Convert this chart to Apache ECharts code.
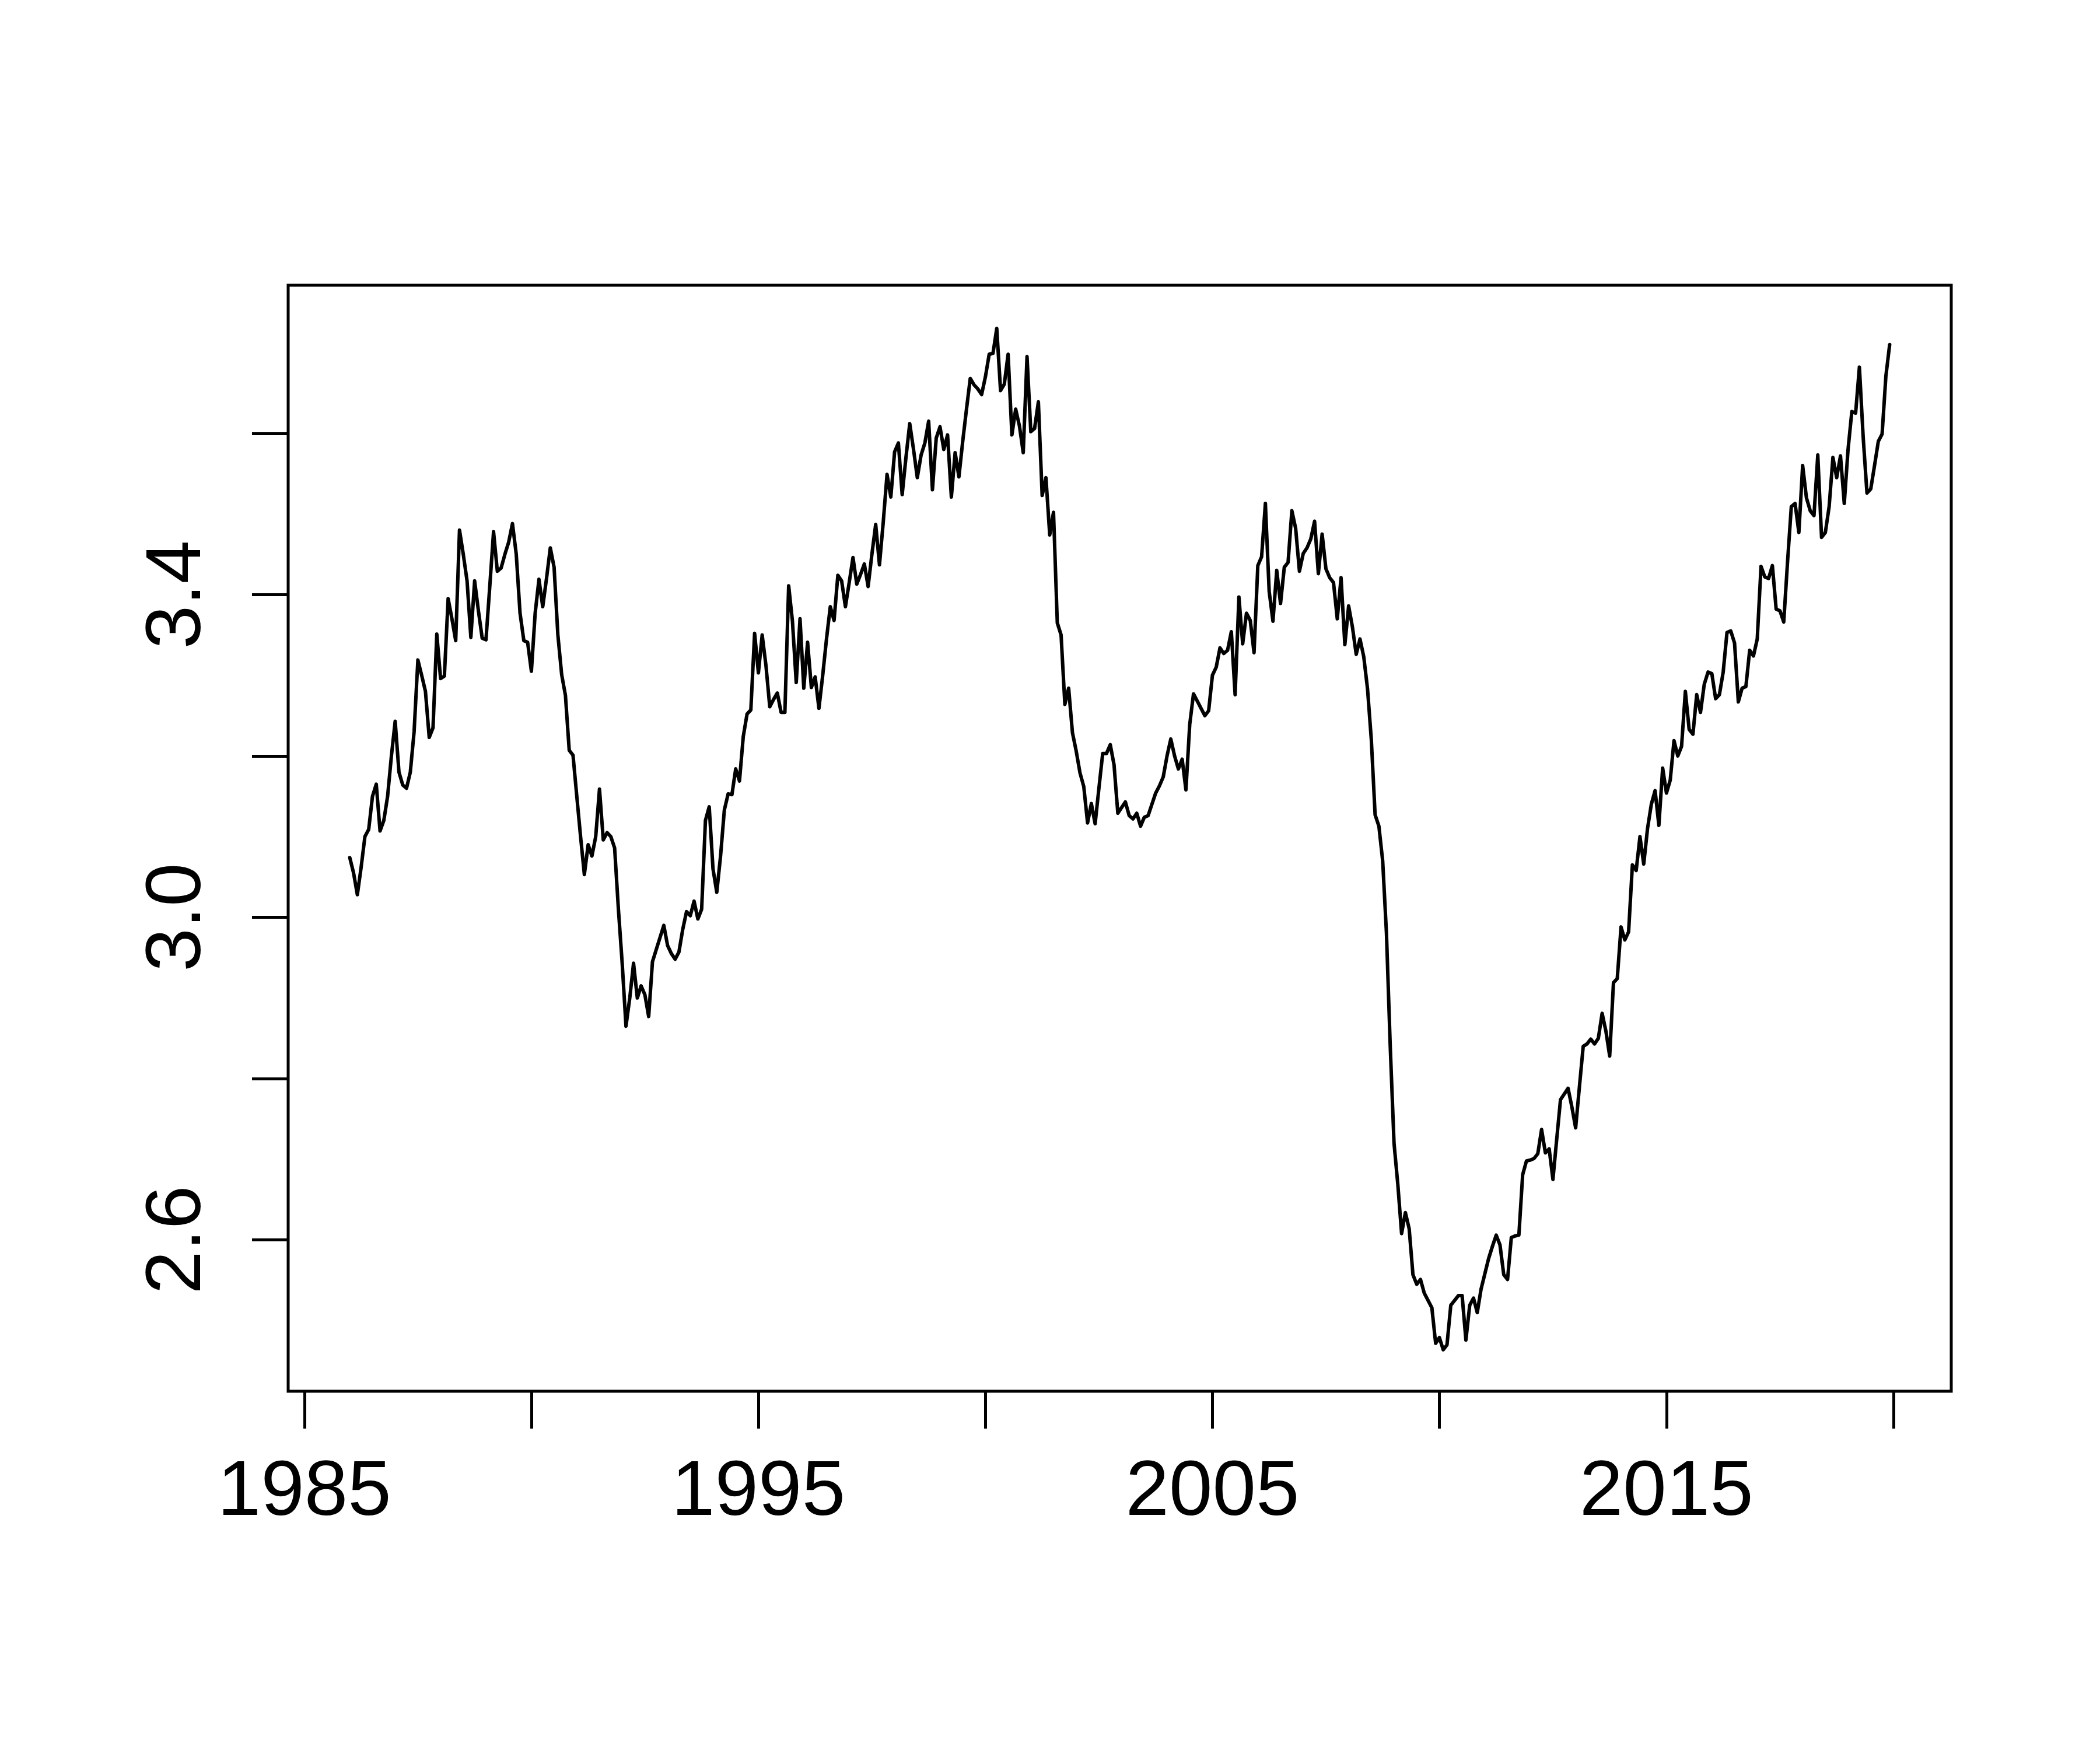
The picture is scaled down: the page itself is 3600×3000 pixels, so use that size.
<!DOCTYPE html>
<html>
<head>
<meta charset="utf-8">
<title>Monthly series 1986-2019</title>
<script src="https://cdn.jsdelivr.net/npm/echarts@6/dist/echarts.min.js"></script>
<style>
  html, body { margin: 0; padding: 0; background: #fff; }
  #chart { width: 3600px; height: 3000px; }
</style>
</head>
<body>
<div id="chart"></div>
<script>
// monthly values, Jan 1986 .. Dec 2019
const startYear = 1986;
const v1986_1990 = [
  3.074, 3.055, 3.028, 3.062, 3.100, 3.109, 3.150, 3.165, 3.107, 3.120, 3.150, 3.200,
  3.243, 3.180, 3.164, 3.160, 3.180, 3.230, 3.319, 3.300, 3.280, 3.223, 3.235, 3.351,
  3.296, 3.299, 3.395, 3.370, 3.343, 3.480, 3.450, 3.417, 3.347, 3.417, 3.380, 3.346,
  3.344, 3.410, 3.478, 3.429, 3.433, 3.450, 3.465, 3.488, 3.450, 3.377, 3.343, 3.341,
  3.305, 3.377, 3.419, 3.385, 3.420, 3.458, 3.434, 3.350, 3.301, 3.275, 3.207, 3.201
];
const v1991_1995 = [
  3.150, 3.100, 3.053, 3.090, 3.076, 3.100, 3.159, 3.096, 3.105, 3.100, 3.086, 3.010,
  2.943, 2.865, 2.900, 2.943, 2.900, 2.915, 2.904, 2.877, 2.945, 2.960, 2.975, 2.990,
  2.965, 2.955, 2.948, 2.957, 2.985, 3.007, 3.002, 3.020, 2.998, 3.010, 3.120, 3.137,
  3.060, 3.031, 3.076, 3.133, 3.153, 3.152, 3.184, 3.169, 3.224, 3.252, 3.257, 3.352,
  3.303, 3.350, 3.312, 3.261, 3.270, 3.278, 3.254, 3.254, 3.411, 3.367, 3.291, 3.370
];
const v1996_2000 = [
  3.284, 3.341, 3.285, 3.298, 3.259, 3.300, 3.345, 3.385, 3.368, 3.424, 3.417, 3.385,
  3.415, 3.446, 3.413, 3.425, 3.438, 3.410, 3.450, 3.487, 3.437, 3.490, 3.549, 3.521,
  3.577, 3.588, 3.524, 3.570, 3.612, 3.580, 3.545, 3.573, 3.588, 3.615, 3.530, 3.594,
  3.608, 3.580, 3.598, 3.521, 3.576, 3.546, 3.590, 3.630, 3.668, 3.660, 3.655, 3.648,
  3.670, 3.698, 3.699, 3.730, 3.653, 3.661, 3.698, 3.598, 3.630, 3.609, 3.576, 3.695
];
const v2001_2005 = [
  3.602, 3.606, 3.639, 3.523, 3.545, 3.474, 3.502, 3.365, 3.350, 3.264, 3.284, 3.229,
  3.206, 3.179, 3.162, 3.117, 3.141, 3.116, 3.160, 3.203, 3.203, 3.214, 3.189, 3.129,
  3.136, 3.143, 3.126, 3.122, 3.129, 3.113, 3.124, 3.126, 3.140, 3.154, 3.163, 3.174,
  3.200, 3.221, 3.200, 3.184, 3.196, 3.158, 3.239, 3.277, 3.268, 3.259, 3.250, 3.256,
  3.300, 3.310, 3.334, 3.327, 3.331, 3.354, 3.276, 3.397, 3.339, 3.377, 3.368, 3.328
];
const v2006_2010 = [
  3.436, 3.447, 3.513, 3.404, 3.367, 3.430, 3.389, 3.434, 3.440, 3.504, 3.482, 3.429,
  3.451, 3.458, 3.469, 3.491, 3.426, 3.475, 3.432, 3.421, 3.415, 3.370, 3.421, 3.338,
  3.386, 3.360, 3.326, 3.345, 3.323, 3.283, 3.220, 3.127, 3.113, 3.070, 2.980, 2.840,
  2.720, 2.669, 2.608, 2.634, 2.614, 2.557, 2.545, 2.551, 2.534, 2.525, 2.516, 2.472,
  2.479, 2.464, 2.470, 2.519, 2.525, 2.531, 2.531, 2.476, 2.519, 2.528, 2.510, 2.539
];
const v2011_2015 = [
  2.558, 2.577, 2.592, 2.606, 2.594, 2.557, 2.551, 2.603, 2.605, 2.606, 2.681, 2.698,
  2.699, 2.701, 2.707, 2.737, 2.708, 2.713, 2.675, 2.725, 2.774, 2.781, 2.788, 2.765,
  2.739, 2.790, 2.840, 2.843, 2.849, 2.843, 2.850, 2.881, 2.859, 2.828, 2.919, 2.924,
  2.988, 2.972, 2.982, 3.065, 3.058, 3.100, 3.066, 3.110, 3.140, 3.157, 3.114, 3.185,
  3.154, 3.170, 3.219, 3.200, 3.212, 3.280, 3.233, 3.227, 3.276, 3.254, 3.289, 3.304
];
const v2016_2019 = [
  3.302, 3.271, 3.276, 3.304, 3.353, 3.355, 3.340, 3.267, 3.284, 3.286, 3.331, 3.324,
  3.345, 3.435, 3.422, 3.420, 3.436, 3.382, 3.380, 3.366, 3.440, 3.509, 3.513, 3.477,
  3.560, 3.520, 3.504, 3.498, 3.573, 3.471, 3.477, 3.509, 3.570, 3.545, 3.572, 3.513,
  3.580, 3.627, 3.625, 3.682, 3.595, 3.526, 3.531, 3.560, 3.590, 3.599, 3.671, 3.710
];

// axis ticks and labels (R skips the labels that would overlap)
const xTicks = [1985, 1990, 1995, 2000, 2005, 2010, 2015, 2020];
const xLabels = [1985, 1995, 2005, 2015];
const yTicks = [2.6, 2.8, 3.0, 3.2, 3.4, 3.6];
const yLabels = [2.6, 3.0, 3.4];

const values = [].concat(v1986_1990, v1991_1995, v1996_2000, v2001_2005,
  v2006_2010, v2011_2015, v2016_2019);
const seriesData = values.map((v, i) => [startYear + i / 12, v]);

const myChart = echarts.init(document.getElementById("chart"));

const labelFont = {
  color: "#000",
  fontFamily: "Liberation Sans, Arial, sans-serif",
  fontSize: 134,
};

const options = {
  animation: false,
  backgroundColor: "#fff",
  grid: {
    left: 494,
    right: 255,
    top: 489,
    bottom: 615,
    show: true,
    borderColor: "#000",
    borderWidth: 5,
    backgroundColor: "transparent",
  },
  xAxis: {
    type: "value",
    min: 1984.643,
    max: 2021.273,
    axisLine: { show: false },
    splitLine: { show: false },
    axisTick: {
      show: true,
      length: 64,
      customValues: xTicks,
      lineStyle: { color: "#000", width: 5 },
    },
    axisLabel: {
      ...labelFont,
      margin: 108,
      customValues: xLabels,
      formatter: (v) => String(Math.round(v)),
    },
  },
  yAxis: {
    type: "value",
    min: 2.4125,
    max: 3.7835,
    axisLine: { show: false },
    splitLine: { show: false },
    axisTick: {
      show: true,
      length: 62,
      customValues: yTicks,
      lineStyle: { color: "#000", width: 5 },
    },
    axisLabel: {
      ...labelFont,
      rotate: 90,
      margin: 121,
      customValues: yLabels,
      formatter: (v) => v.toFixed(1),
    },
  },
  series: [
    {
      type: "line",
      data: seriesData,
      showSymbol: false,
      lineStyle: { color: "#000", width: 6, join: "round", cap: "round" },
    },
  ],
};

myChart.setOption(options);
</script>
</body>
</html>
